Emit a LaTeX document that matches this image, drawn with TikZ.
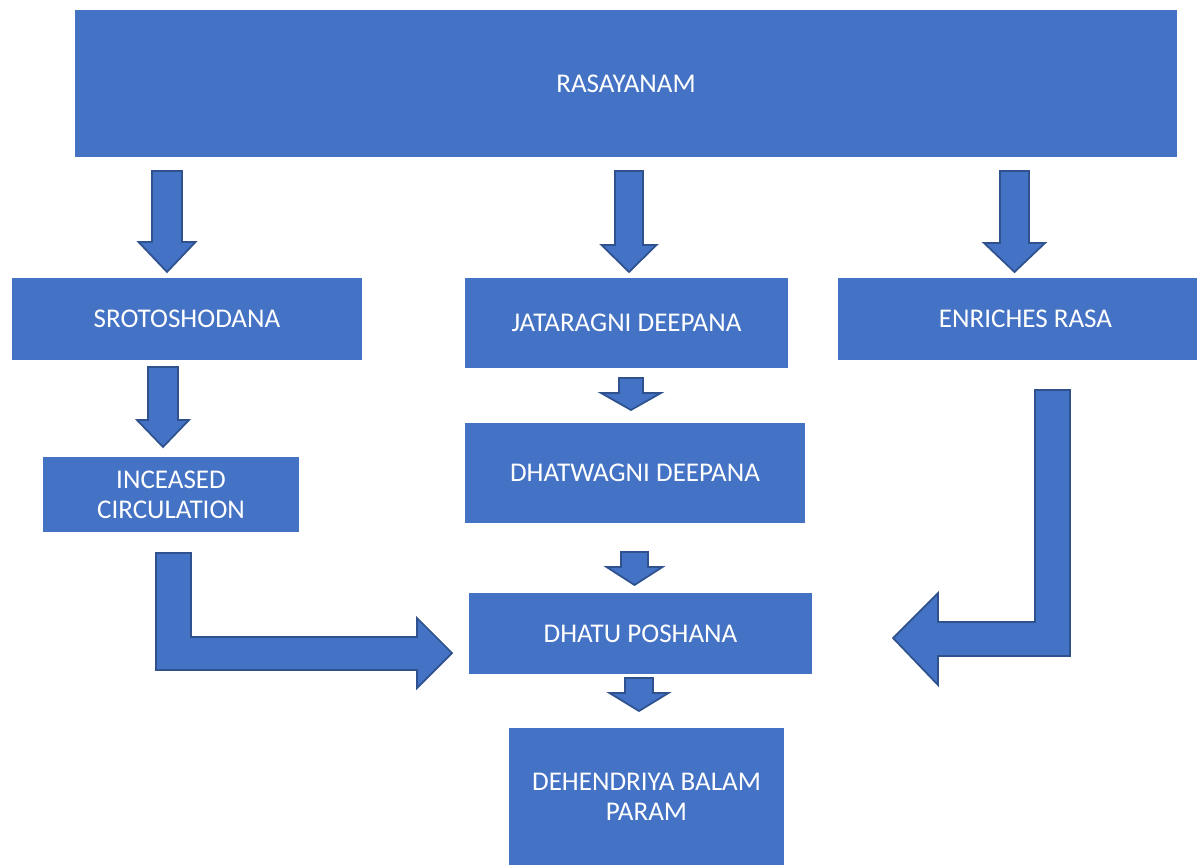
\documentclass[tikz,border=0pt]{standalone}
\usepackage{fontspec}
\setmainfont{Carlito}
\usepackage{xcolor}
\usetikzlibrary{positioning,calc}
\definecolor{boxblue}{HTML}{4472C4}
\definecolor{edgeblue}{HTML}{2F528F}

% block arrow pointing down: x centre, top, head base, tip, half shaft, half head
\newcommand{\downblock}[6]{%
    \draw[blockarrow] ({#1-#5},#2) -- ({#1+#5},#2) -- ({#1+#5},#3) -- ({#1+#6},#3)
        -- (#1,#4) -- ({#1-#6},#3) -- ({#1-#5},#3) -- cycle;}

\begin{document}
\begin{tikzpicture}[
    x=0.02cm, y=-0.02cm,
    box/.style={rectangle, fill=boxblue, text=white, align=center, inner sep=0pt,
        font=\fontsize{15.4}{17}\selectfont},
    blockarrow/.style={fill=boxblue, draw=edgeblue, line width=1pt, line join=miter}
]
    \useasboundingbox (0,0) rectangle (1197,865);

    \node[box, minimum width=22.04cm, minimum height=2.94cm] (rasa) at (626,83.5) {RASAYANAM};
    \node[box, minimum width=7cm, minimum height=1.64cm] (sroto) at (187,319) {SROTOSHODANA};
    \node[box, minimum width=6.46cm, minimum height=1.8cm] (jatar) at (626.5,323) {JATARAGNI DEEPANA};
    \node[box, minimum width=7.18cm, minimum height=1.64cm] (enrich) at (1017.5,319) {\hspace*{0.32cm}ENRICHES RASA};
    \node[box, minimum width=5.12cm, minimum height=1.5cm] (circ) at (171,494.5) {INCEASED\\CIRCULATION};
    \node[box, minimum width=6.8cm, minimum height=2cm] (dhatw) at (635,473) {DHATWAGNI DEEPANA};
    \node[box, minimum width=6.86cm, minimum height=1.62cm] (posh) at (640.5,633.5) {DHATU POSHANA};
    \node[box, minimum width=5.5cm, minimum height=2.74cm] (bala) at (646.5,796.5) {DEHENDRIYA BALAM\\PARAM};

    % straight arrows
    \downblock{167}{171}{242}{272}{15}{28.5}
    \downblock{629}{171}{245}{272}{14}{27.5}
    \downblock{1014.5}{171}{243}{272}{14.5}{30.5}
    \downblock{163}{367}{420}{447}{15}{26}
    \downblock{631}{378}{393}{410}{12}{30}
    \downblock{634.5}{552}{567}{585}{13.5}{28}
    \downblock{639}{678}{693}{711}{14}{29.5}

    % bent arrows into DHATU POSHANA
    \draw[blockarrow] (156,553) -- (191,553) -- (191,637) -- (417,637) -- (417,618)
        -- (452,653) -- (417,688) -- (417,670) -- (156,670) -- cycle;
    \draw[blockarrow] (1070,390) -- (1070,656) -- (938,656) -- (938,685) -- (893,638)
        -- (938,593) -- (938,622) -- (1035,622) -- (1035,390) -- cycle;
\end{tikzpicture}
\end{document}
